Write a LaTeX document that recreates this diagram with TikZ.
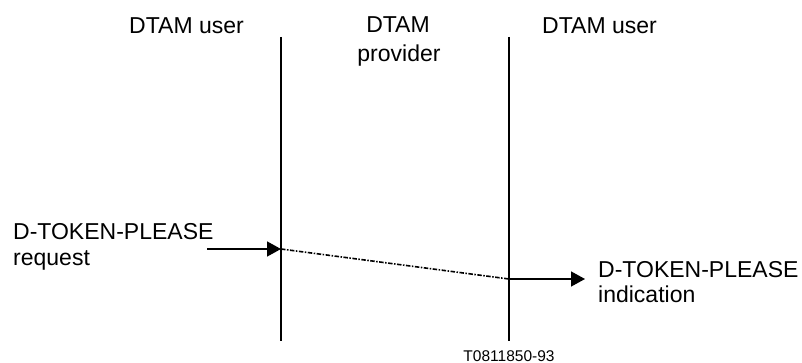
\documentclass[tikz,border=0pt]{standalone}
\usepackage{fontspec}
\setmainfont{Liberation Sans}
\usetikzlibrary{arrows.meta}
\begin{document}
\begin{tikzpicture}[x=1pt,y=-1pt,
  lbl/.style={inner sep=0pt,font=\fontsize{23}{26}\selectfont},
  small/.style={inner sep=0pt,font=\fontsize{15.5}{18}\selectfont},
  life/.style={line width=1.5pt},
  msg/.style={line width=1.5pt,-{Triangle[length=14pt,width=15pt]}},
  trans/.style={line width=1.6pt,dash pattern=on 4.5pt off 1.5pt on 1.5pt off 1.5pt}]
\useasboundingbox (0,0) rectangle (802,363);
% headers
\node[lbl,anchor=base west] (u1) at (129,34) {DTAM user};
\node[lbl,anchor=base] (p1) at (398,33) {DTAM};
\node[lbl,anchor=base] (p2) at (399,62) {provider};
\node[lbl,anchor=base west] (u2) at (542,34) {DTAM user};
% lifelines
\coordinate (a1) at (281,37);
\coordinate (a2) at (281,341);
\coordinate (b1) at (509,37);
\coordinate (b2) at (509,341);
\draw[life] (a1) -- (a2);
\draw[life] (b1) -- (b2);
% messages
\coordinate (s) at (207,249);
\coordinate (ra) at (281,249);
\coordinate (rb) at (509,279);
\coordinate (e) at (585,279);
\draw[msg] (s) -- (ra);
\draw[trans] (ra) -- (rb);
\draw[msg] (rb) -- (e);
% labels
\node[lbl,anchor=base west] (q1) at (13,239) {D-TOKEN-PLEASE};
\node[lbl,anchor=base west] (q2) at (13,265) {request};
\node[lbl,anchor=base west] (i1) at (598,277) {D-TOKEN-PLEASE};
\node[lbl,anchor=base west] (i2) at (598,302) {indication};
\node[small,anchor=base] (fig) at (509,361) {T0811850-93};
\end{tikzpicture}
\end{document}
